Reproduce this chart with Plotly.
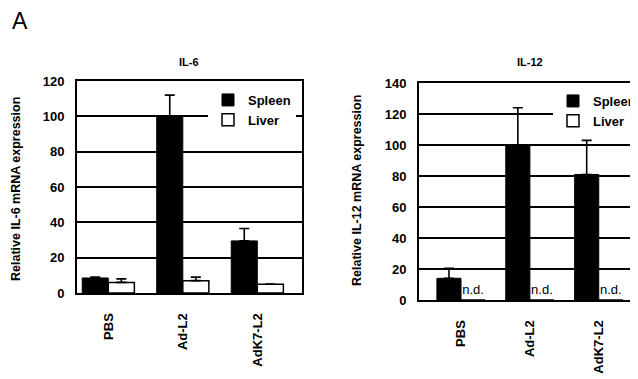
import plotly.graph_objects as go

# page body has an 8px margin; the figure is sized to fit the 638x379 window
OFF = 8
W, H = 638 - OFF, 379 - OFF

categories = ["PBS", "Ad-L2", "AdK7-L2"]

il6_spleen = [8.5, 100, 29.5]
il6_spleen_err = [0.5, 12, 7]
il6_liver = [6, 7, 5]
il6_liver_err = [2, 2, 0]

il12_spleen = [14, 100, 81]
il12_spleen_err = [6.5, 24, 22]
il12_liver = [0, 0, 0]
il12_liver_text = ["n.d.", "n.d.", "n.d."]

left_ticks = [0, 20, 40, 60, 80, 100, 120]
right_ticks = [0, 20, 40, 60, 80, 100, 120, 140]

FONT = "Liberation Sans"


def px_x(p):
    return (p - OFF) / W


def px_y(p):
    return 1 - (p - OFF) / H


fig = go.Figure()

err_style = dict(type="data", symmetric=False, color="black", thickness=1.6, width=5)

fig.add_trace(go.Bar(
    x=categories, y=il6_spleen, name="Spleen",
    marker=dict(color="black", line=dict(color="black", width=1)),
    error_y=dict(array=il6_spleen_err, arrayminus=[0, 0, 0], **err_style),
    xaxis="x", yaxis="y", legend="legend",
))
fig.add_trace(go.Bar(
    x=categories, y=il6_liver, name="Liver",
    marker=dict(color="white", line=dict(color="black", width=1.5)),
    error_y=dict(array=il6_liver_err, arrayminus=[0, 0, 0], **err_style),
    xaxis="x", yaxis="y", legend="legend",
))
fig.add_trace(go.Bar(
    x=categories, y=il12_spleen, name="Spleen",
    marker=dict(color="black", line=dict(color="black", width=1)),
    error_y=dict(array=il12_spleen_err, arrayminus=[0, 0, 0], **err_style),
    xaxis="x2", yaxis="y2", legend="legend2",
))
fig.add_trace(go.Bar(
    x=categories, y=il12_liver, name="Liver",
    text=il12_liver_text, textposition="outside", cliponaxis=False,
    textfont=dict(family=FONT, size=13, color="black"),
    marker=dict(color="white", line=dict(color="black", width=1.5)),
    xaxis="x2", yaxis="y2", legend="legend2",
))

tickfont = dict(family=FONT, size=13, color="black", weight="bold")

common_x = dict(
    type="category", showgrid=False, showline=True, linecolor="black", linewidth=2,
    mirror=True, tickangle=-90, tickfont=tickfont, ticks="", ticklabelstandoff=13,
    fixedrange=True, automargin=False,
)
common_y = dict(
    showgrid=True, gridcolor="black", gridwidth=1.5, showline=True, linecolor="black",
    linewidth=2, ticks="", tickfont=tickfont, zeroline=False, ticklabelstandoff=8,
    automargin=False,
)

legend_common = dict(
    bgcolor="white", borderwidth=0, font=dict(family=FONT, size=13, color="black", weight="bold"),
    xanchor="left", yanchor="top", tracegroupgap=0,
)

fig.update_layout(
    width=W, height=H, margin=dict(l=0, r=0, t=0, b=0, autoexpand=False),
    paper_bgcolor="white", plot_bgcolor="white",
    barmode="group", bargap=0.3, bargroupgap=0,
    font=dict(family=FONT, color="black"),
    xaxis=dict(domain=[px_x(77), px_x(302)], anchor="y", range=[-0.42, 2.6], **common_x),
    yaxis=dict(domain=[px_y(293), px_y(81)], anchor="x", range=[0, 120], tickvals=left_ticks, mirror=True, **common_y),
    xaxis2=dict(domain=[px_x(419), 1], anchor="y2", range=[-0.61, 2.57], **common_x),
    yaxis2=dict(domain=[px_y(300), px_y(83)], anchor="x2", range=[0, 140], tickvals=right_ticks, mirror=False, **common_y),
    legend=dict(x=px_x(208), y=px_y(85), **legend_common),
    legend2=dict(x=px_x(553), y=px_y(86), **legend_common),
    showlegend=True,
)


def label(text, x, y, size, weight="bold", angle=0):
    fig.add_annotation(text=text, x=px_x(x), y=px_y(y), xref="paper", yref="paper",
                       xanchor="center", yanchor="middle", textangle=angle,
                       showarrow=False,
                       font=dict(family=FONT, size=size, color="black", weight=weight))


label("A", 20, 21, 23, weight="normal")
label("IL-6", 189, 62, 11)
label("IL-12", 530, 62, 11)
label("Relative IL-6 mRNA expression", 16, 189, 12.5, angle=-90)
label("Relative IL-12 mRNA expression", 357, 191, 12.5, angle=-90)

fig.write_html("out.html")
